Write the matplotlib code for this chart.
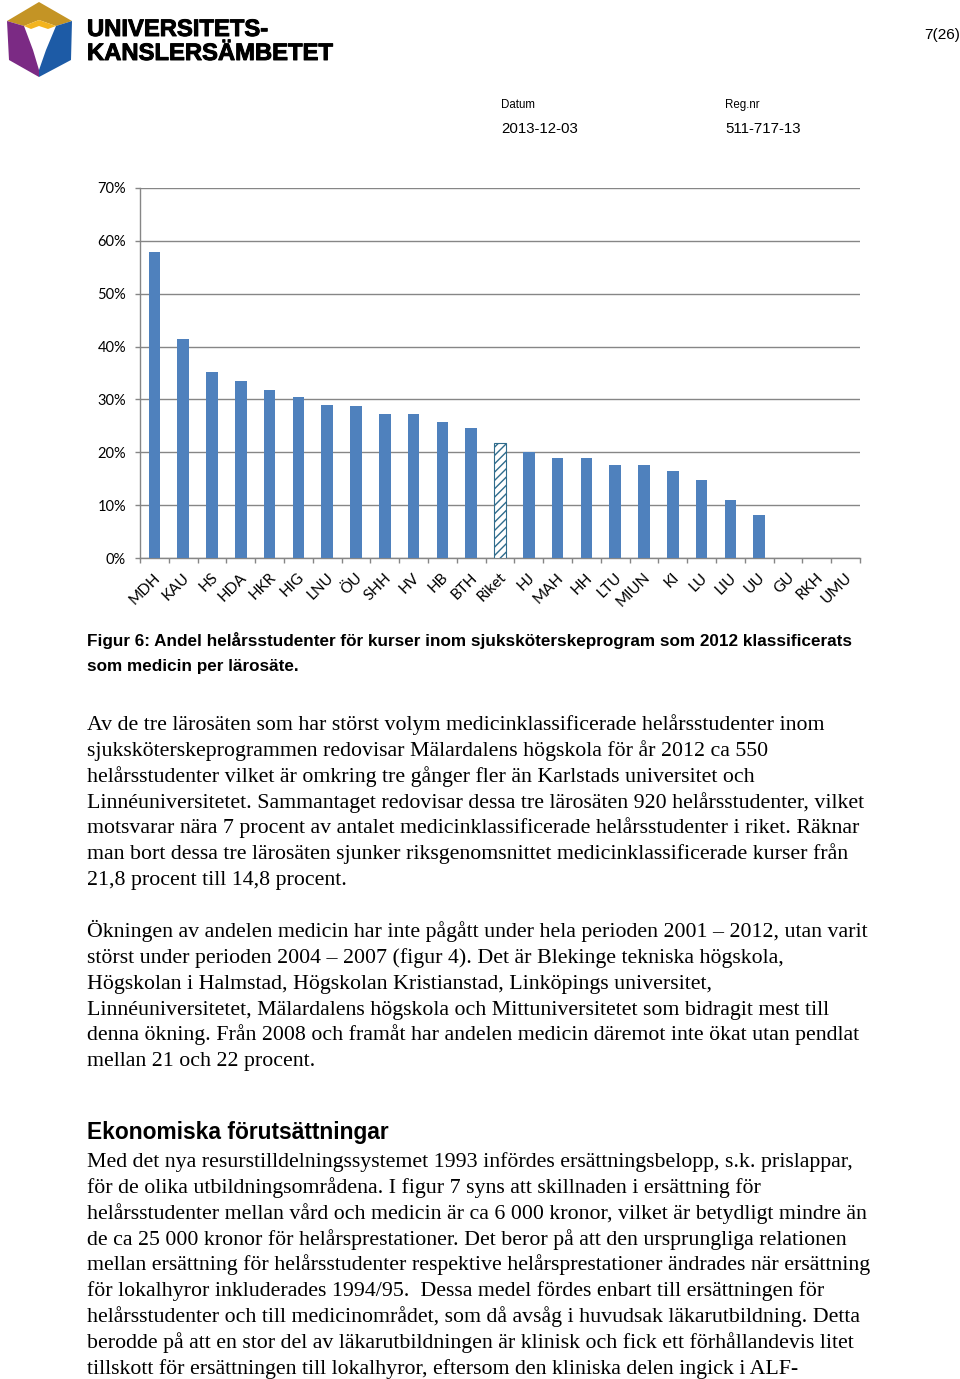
import matplotlib
matplotlib.use("Agg")
import matplotlib.pyplot as plt
from matplotlib import font_manager as fm
from matplotlib import patheffects as pe
from matplotlib.ticker import PercentFormatter, FixedLocator
from matplotlib.transforms import ScaledTranslation
from matplotlib.patches import Polygon

# ---------------- data ----------------
categories = ['MDH', 'KAU', 'HS', 'HDA', 'HKR', 'HIG', 'LNU', 'ÖU', 'SHH', 'HV', 'HB', 'BTH',
              'Riket', 'HJ', 'MAH', 'HH', 'LTU', 'MIUN', 'KI', 'LU', 'LIU', 'UU', 'GU', 'RKH', 'UMU']
shares = [0.579, 0.415, 0.351, 0.335, 0.318, 0.305, 0.289, 0.287, 0.273, 0.272, 0.258, 0.246,
          0.218, 0.200, 0.190, 0.189, 0.176, 0.175, 0.164, 0.147, 0.109, 0.082, 0.0, 0.0, 0.0]
highlight = 'Riket'
y_ticks = [0.0, 0.1, 0.2, 0.3, 0.4, 0.5, 0.6, 0.7]

caption_lines = [
    "Figur 6: Andel helårsstudenter för kurser inom sjuksköterskeprogram som 2012 klassificerats",
    "som medicin per lärosäte.",
]
para1 = [
    "Av de tre lärosäten som har störst volym medicinklassificerade helårsstudenter inom",
    "sjuksköterskeprogrammen redovisar Mälardalens högskola för år 2012 ca 550",
    "helårsstudenter vilket är omkring tre gånger fler än Karlstads universitet och",
    "Linnéuniversitetet. Sammantaget redovisar dessa tre lärosäten 920 helårsstudenter, vilket",
    "motsvarar nära 7 procent av antalet medicinklassificerade helårsstudenter i riket. Räknar",
    "man bort dessa tre lärosäten sjunker riksgenomsnittet medicinklassificerade kurser från",
    "21,8 procent till 14,8 procent.",
]
para2 = [
    "Ökningen av andelen medicin har inte pågått under hela perioden 2001 – 2012, utan varit",
    "störst under perioden 2004 – 2007 (figur 4). Det är Blekinge tekniska högskola,",
    "Högskolan i Halmstad, Högskolan Kristianstad, Linköpings universitet,",
    "Linnéuniversitetet, Mälardalens högskola och Mittuniversitetet som bidragit mest till",
    "denna ökning. Från 2008 och framåt har andelen medicin däremot inte ökat utan pendlat",
    "mellan 21 och 22 procent.",
]
heading = "Ekonomiska förutsättningar"
para3 = [
    "Med det nya resurstilldelningssystemet 1993 infördes ersättningsbelopp, s.k. prislappar,",
    "för de olika utbildningsområdena. I figur 7 syns att skillnaden i ersättning för",
    "helårsstudenter mellan vård och medicin är ca 6 000 kronor, vilket är betydligt mindre än",
    "de ca 25 000 kronor för helårsprestationer. Det beror på att den ursprungliga relationen",
    "mellan ersättning för helårsstudenter respektive helårsprestationer ändrades när ersättning",
    "för lokalhyror inkluderades 1994/95.  Dessa medel fördes enbart till ersättningen för",
    "helårsstudenter och till medicinområdet, som då avsåg i huvudsak läkarutbildning. Detta",
    "berodde på att en stor del av läkarutbildningen är klinisk och fick ett förhållandevis litet",
    "tillskott för ersättningen till lokalhyror, eftersom den kliniska delen ingick i ALF-",
]

# ---------------- figure ----------------
W, H = 960, 1379
fig = plt.figure(figsize=(W / 100, H / 100), dpi=100)
fig.patch.set_facecolor("white")
renderer = fig.canvas.get_renderer()

fonts = fm.fontManager.ttflist
names = {f.name for f in fonts}
narrow_bold = any(f.name == "Liberation Sans Narrow" and
                  (f.weight == 700 or f.weight == "bold") for f in fonts)
LOGO = "Liberation Sans Narrow" if narrow_bold else "Liberation Sans"
SANS = "Liberation Sans"
SERIF = "Liberation Serif"
CHART = "Lato" if "Lato" in names else "DejaVu Sans"

bg = fig.add_axes([0, 0, 1, 1])
bg.set_xlim(0, W)
bg.set_ylim(H, 0)
bg.axis("off")


def put(x, y, s, family, size, weight="normal", ha="left", target=None, **kw):
    t = bg.text(x, y, s, family=family, fontsize=size, fontweight=weight,
                ha=ha, va="baseline", color="black", **kw)
    if target is not None:
        w = t.get_window_extent(renderer).width
        t.set_fontsize(size * target / w)
    return t


# ---- logo (simple shapes) ----
logo = [
    ([(7, 21), (39, 2), (72, 21), (56, 26), (39, 20), (24, 26)], "#C49425"),
    ([(24, 26), (39, 20), (56, 26), (48, 29), (39, 26), (31, 29)], "#F3B41F"),
    ([(7, 21), (24, 26), (33, 50), (39, 70), (39, 77), (9, 60)], "#7B2A84"),
    ([(72, 21), (56, 26), (46, 50), (39, 70), (39, 77), (71, 60)], "#1D5BA6"),
]
for pts, col in logo:
    bg.add_patch(Polygon(pts, closed=True, facecolor=col, edgecolor="none"))

# ---- header ----
t1 = put(87, 36, "UNIVERSITETS-", LOGO, 19, "heavy", target=182)
t2 = put(87, 60, "KANSLERSÄMBETET", LOGO, 19, "heavy", target=244)
s_logo = (t1.get_fontsize() + t2.get_fontsize()) / 2
heavy = [pe.withStroke(linewidth=0.7, foreground="black")]
for t in (t1, t2):
    t.set_fontsize(s_logo)
    t.set_path_effects(heavy)

put(960, 39, "7(26)", SANS, 11, ha="right", target=36)
d1 = put(501, 108, "Datum", SANS, 8.3, target=34)
put(725, 108, "Reg.nr", SANS, d1.get_fontsize())
d2 = put(501, 133, "2013-12-03", SANS, 11, target=77)
put(725, 133, "511-717-13", SANS, d2.get_fontsize())

# ---------------- chart ----------------
ax = fig.add_axes([140 / W, 1 - 558 / H, 720 / W, 370 / H])
x = list(range(len(categories)))
colors = ["white" if c == highlight else "#4F81BD" for c in categories]
bars = ax.bar(x, shares, width=0.4, color=colors, edgecolor="none", zorder=3)
plt.rcParams["hatch.linewidth"] = 0.9
for b, c in zip(bars, categories):
    if c == highlight:
        b.set_hatch("////")
        b.set_edgecolor("#2F6C8C")
        b.set_linewidth(0.8)

grid_c = "#868686"
ax.set_xlim(-0.5, len(categories) - 0.5)
ax.set_ylim(0, 0.7)
ax.yaxis.set_major_locator(FixedLocator(y_ticks))
ax.yaxis.set_major_formatter(PercentFormatter(1.0, decimals=0))
ax.grid(axis="y", color=grid_c, linewidth=1.0, zorder=0)
ax.set_axisbelow(True)
for side in ("top", "right"):
    ax.spines[side].set_visible(False)
for side in ("left", "bottom"):
    ax.spines[side].set_color(grid_c)
    ax.spines[side].set_linewidth(1.0)

ax.tick_params(axis="y", direction="out", length=3.6, width=1.0, color=grid_c,
               pad=6.5, labelsize=10.5, labelcolor="black")
for lab in ax.get_yticklabels():
    lab.set_family(CHART)

ax.set_xticks(x)
ax.set_xticklabels(categories, rotation=45, ha="right", va="center",
                   rotation_mode="anchor", family=CHART, fontsize=11)
ax.tick_params(axis="x", which="major", length=0, pad=12.5)
ax.set_xticks([i - 0.5 for i in range(len(categories) + 1)], minor=True)
ax.tick_params(axis="x", which="minor", direction="out", length=3.6, width=1.0, color=grid_c)
off = ScaledTranslation(4 / 100, 0, fig.dpi_scale_trans)
for lab in ax.get_xticklabels():
    lab.set_transform(lab.get_transform() + off)

# ---------------- text body ----------------
c1 = put(87, 646, caption_lines[0], SANS, 11.3, "bold", target=766)
put(87, 671, caption_lines[1], SANS, c1.get_fontsize(), "bold")

ref = put(87, 807, para1[3], SERIF, 15, target=783)
body_size = ref.get_fontsize()
ref.remove()

step = 25.85
for i, line in enumerate(para1):
    put(87, 730 + i * step, line, SERIF, body_size)
for i, line in enumerate(para2):
    put(87, 937 + i * step, line, SERIF, body_size)
put(87, 1139.5, heading, SANS, 15, "bold", target=303)
for i, line in enumerate(para3):
    put(87, 1167 + i * step, line, SERIF, body_size)

fig.savefig("out.png", dpi=100, facecolor="white")
